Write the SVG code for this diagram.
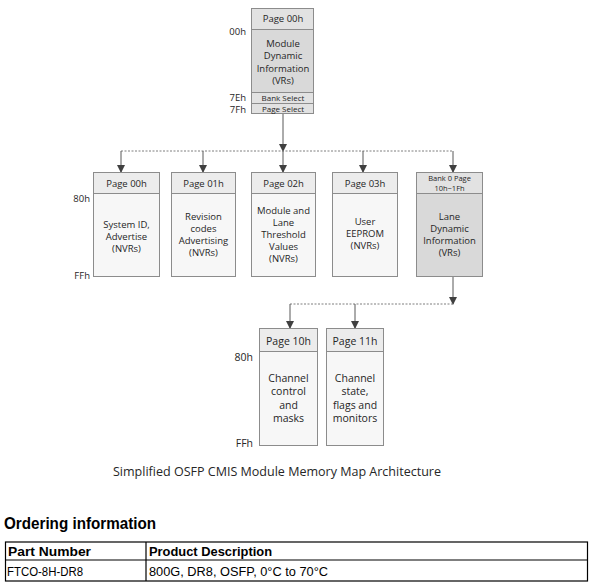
<svg xmlns="http://www.w3.org/2000/svg" width="593" height="588" viewBox="0 0 593 588">
<style>
text{font-family:"Open Sans","Noto Sans","Liberation Sans",sans-serif;fill:#262626}
.t{font-size:9.5px;text-anchor:middle}
.h{font-size:9.5px;text-anchor:middle}
.s{font-size:8px;text-anchor:middle}
.l{font-size:9.5px;text-anchor:end}
.b{font-size:10.5px;text-anchor:middle}
.bx{stroke:#8c8c8c;stroke-width:1}
.lt{fill:#f7f7f7}
.lth{fill:#ececec}
.dk{fill:#d9d9d9}
.dkh{fill:#e2e2e2}
.ln{stroke:#595959;stroke-width:1;fill:none}
.ds{stroke:#7f7f7f;stroke-width:1;fill:none;stroke-dasharray:2,1.5}
.a{font-family:"Liberation Sans",Arial,sans-serif;fill:#000}
</style>
<defs>
<marker id="ar" markerWidth="8" markerHeight="10" refX="7" refY="4" orient="auto" markerUnits="userSpaceOnUse" viewBox="0 0 8 8">
<path d="M0,0 L8,4 L0,8 z" fill="#404040"/>
</marker>
</defs>
<rect width="593" height="588" fill="#fff"/>

<g id="connectors">
<path class="ln" d="M283,114 V151" marker-end="url(#ar)"/>
<path class="ln" d="M283,151 V172" marker-end="url(#ar)"/>
<path class="ds" d="M121,151 H453"/>
<path class="ln" d="M121,151 V172" marker-end="url(#ar)"/>
<path class="ln" d="M203,151 V172" marker-end="url(#ar)"/>
<path class="ln" d="M363,151 V172" marker-end="url(#ar)"/>
<path class="ln" d="M453,151 V172" marker-end="url(#ar)"/>
<path class="ln" d="M453,277 V304" marker-end="url(#ar)"/>
<path class="ds" d="M290,304 H453"/>
<path class="ln" d="M290,304 V328" marker-end="url(#ar)"/>
<path class="ln" d="M355,304 V328" marker-end="url(#ar)"/>
</g>

<g id="top">
<rect class="bx dkh" x="251.5" y="8.5" width="62" height="21"/>
<rect class="bx dk" x="251.5" y="29.5" width="62" height="63"/>
<rect class="bx dkh" x="251.5" y="92.5" width="62" height="11"/>
<rect class="bx dkh" x="251.5" y="103.5" width="62" height="10"/>
<text class="h" x="283" y="22">Page 00h</text>
<text class="t" x="283" y="47">Module</text>
<text class="t" x="283" y="59">Dynamic</text>
<text class="t" x="283" y="71.5">Information</text>
<text class="t" x="283" y="84">(VRs)</text>
<text class="s" x="283" y="101">Bank Select</text>
<text class="s" x="283" y="112">Page Select</text>
<text class="l" x="246" y="35">00h</text>
<text class="l" x="246" y="101">7Eh</text>
<text class="l" x="246" y="113">7Fh</text>
</g>

<g id="page00">
<rect class="bx lth" x="93.5" y="172.5" width="66" height="21"/>
<rect class="bx lt" x="93.5" y="193.5" width="66" height="83"/>
<text class="h" x="126.5" y="186.5">Page 00h</text>
<text class="t" x="126.5" y="228">System ID,</text>
<text class="t" x="126.5" y="240">Advertise</text>
<text class="t" x="126.5" y="252">(NVRs)</text>
</g>
<g id="page01">
<rect class="bx lth" x="171.5" y="172.5" width="64" height="21"/>
<rect class="bx lt" x="171.5" y="193.5" width="64" height="83"/>
<text class="h" x="203.5" y="186.5">Page 01h</text>
<text class="t" x="203.5" y="220">Revision</text>
<text class="t" x="203.5" y="232">codes</text>
<text class="t" x="203.5" y="244">Advertising</text>
<text class="t" x="203.5" y="256">(NVRs)</text>
</g>
<g id="page02">
<rect class="bx lth" x="251.5" y="172.5" width="64" height="21"/>
<rect class="bx lt" x="251.5" y="193.5" width="64" height="83"/>
<text class="h" x="283.5" y="186.5">Page 02h</text>
<text class="t" x="283.5" y="214">Module and</text>
<text class="t" x="283.5" y="226">Lane</text>
<text class="t" x="283.5" y="238">Threshold</text>
<text class="t" x="283.5" y="250">Values</text>
<text class="t" x="283.5" y="262">(NVRs)</text>
</g>
<g id="page03">
<rect class="bx lth" x="332.5" y="172.5" width="65" height="21"/>
<rect class="bx lt" x="332.5" y="193.5" width="65" height="83"/>
<text class="h" x="365" y="186.5">Page 03h</text>
<text class="t" x="365" y="225">User</text>
<text class="t" x="365" y="237">EEPROM</text>
<text class="t" x="365" y="249">(NVRs)</text>
</g>
<g id="bank0">
<rect class="bx dkh" x="416.5" y="172.5" width="66" height="21"/>
<rect class="bx dk" x="416.5" y="193.5" width="66" height="83"/>
<text class="h" x="449.5" y="180.5" style="font-size:7.5px">Bank 0 Page</text>
<text class="h" x="449.5" y="191" style="font-size:7.5px">10h~1Fh</text>
<text class="t" x="449.5" y="220">Lane</text>
<text class="t" x="449.5" y="232">Dynamic</text>
<text class="t" x="449.5" y="244">Information</text>
<text class="t" x="449.5" y="256">(VRs)</text>
</g>
<g id="labels2">
<text class="l" x="90" y="202">80h</text>
<text class="l" x="90" y="279">FFh</text>
</g>

<g id="page10">
<rect class="bx lth" x="259.5" y="328.5" width="58" height="23"/>
<rect class="bx lt" x="259.5" y="351.5" width="58" height="94"/>
<text class="b" x="288.5" y="345">Page 10h</text>
<text class="b" x="288.5" y="381.5">Channel</text>
<text class="b" x="288.5" y="395">control</text>
<text class="b" x="288.5" y="408.5">and</text>
<text class="b" x="288.5" y="422">masks</text>
</g>
<g id="page11">
<rect class="bx lth" x="326.5" y="328.5" width="57" height="23"/>
<rect class="bx lt" x="326.5" y="351.5" width="57" height="94"/>
<text class="b" x="355" y="345">Page 11h</text>
<text class="b" x="355" y="381.5">Channel</text>
<text class="b" x="355" y="395">state,</text>
<text class="b" x="355" y="408.5">flags and</text>
<text class="b" x="355" y="422">monitors</text>
</g>
<g id="labels3">
<text class="l" x="253" y="361" style="font-size:10.5px">80h</text>
<text class="l" x="253" y="447" style="font-size:10.5px">FFh</text>
</g>

<text x="113" y="476" style="font-size:12px" textLength="328" lengthAdjust="spacingAndGlyphs">Simplified OSFP CMIS Module Memory Map Architecture</text>

<g id="ordering">
<text class="a" x="4" y="529" style="font-size:16px;font-weight:bold" textLength="152" lengthAdjust="spacingAndGlyphs">Ordering information</text>
<rect x="5.5" y="542" width="582" height="39" fill="none" stroke="#000" stroke-width="1.2"/>
<line x1="5.5" y1="560" x2="587.5" y2="560" stroke="#000" stroke-width="1.2"/>
<line x1="146" y1="542" x2="146" y2="581" stroke="#000" stroke-width="1.2"/>
<text class="a" x="8" y="556" style="font-size:13px;font-weight:bold" textLength="83" lengthAdjust="spacingAndGlyphs">Part Number</text>
<text class="a" x="149" y="556" style="font-size:13px;font-weight:bold" textLength="123" lengthAdjust="spacingAndGlyphs">Product Description</text>
<text class="a" x="7" y="576" style="font-size:12px" textLength="76" lengthAdjust="spacingAndGlyphs">FTCO-8H-DR8</text>
<text class="a" x="149" y="576" style="font-size:12px" textLength="179" lengthAdjust="spacingAndGlyphs">800G, DR8, OSFP, 0°C to 70°C</text>
</g>
</svg>
